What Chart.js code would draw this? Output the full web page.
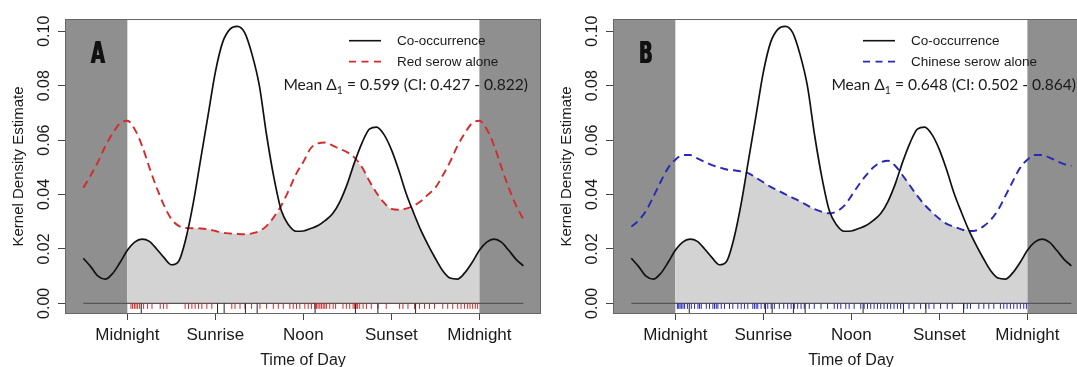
<!DOCTYPE html>
<html>
<head>
<meta charset="utf-8">
<script src="https://cdn.jsdelivr.net/npm/chart.js@4.4.1/dist/chart.umd.min.js"></script>
<style>
  html, body { margin: 0; padding: 0; background: #fff; overflow: hidden; }
  .panel { position: absolute; top: 0; width: 548px; height: 367px; }
  #panel-a { left: 0; }
  #panel-b { left: 548px; }
</style>
</head>
<body>
<div class="panel" id="panel-a"><canvas id="chart-a"></canvas></div>
<div class="panel" id="panel-b"><canvas id="chart-b"></canvas></div>
<script>
// Time of day in hours; the density is drawn 3 h past each midnight
const hours = [-3, -2.5, -2, -1.5, -1, -0.5, 0, 0.5, 1, 1.5, 2, 2.5, 3, 3.5, 4, 4.5, 5, 5.5,
  6, 6.5, 7, 7.5, 8, 8.5, 9, 9.5, 10, 10.5, 11, 11.5, 12, 12.5, 13, 13.5, 14, 14.5, 15, 15.5,
  16, 16.5, 17, 17.5, 18, 18.5, 19, 19.5, 20, 20.5, 21, 21.5, 22, 22.5, 23, 23.5, 24, 24.5,
  25, 25.5, 26, 26.5, 27];

// Kernel density estimates
const coOccurrence = [
  0.0166, 0.0135, 0.0100, 0.0089, 0.0110, 0.0150,
  0.0195, 0.0225, 0.0236, 0.0228, 0.0200, 0.0168,
  0.0142, 0.0155, 0.0240, 0.0370, 0.0530, 0.0690,
  0.0850, 0.0960, 0.1008, 0.1018, 0.0995, 0.0915,
  0.0800, 0.0616, 0.0460, 0.0340, 0.0288, 0.0265,
  0.0266, 0.0275, 0.0286, 0.0305, 0.0330, 0.0375,
  0.0440, 0.0520, 0.0590, 0.0640, 0.0648, 0.0620,
  0.0565, 0.0490, 0.0405, 0.0335, 0.0270, 0.0215,
  0.0165, 0.0120, 0.0093, 0.0089, 0.0112, 0.0150,
  0.0195, 0.0225, 0.0236, 0.0225, 0.0195, 0.0162,
  0.0138];
const redSerowAlone = [
  0.0425, 0.0470, 0.0520, 0.0578, 0.0625, 0.0662,
  0.0671, 0.0640, 0.0580, 0.0500, 0.0425, 0.0360,
  0.0310, 0.0285, 0.0277, 0.0276, 0.0275, 0.0272,
  0.0266, 0.0260, 0.0257, 0.0255, 0.0254, 0.0257,
  0.0266, 0.0285, 0.0318, 0.0360, 0.0415, 0.0475,
  0.0520, 0.0570, 0.0588, 0.0591, 0.0580, 0.0567,
  0.0555, 0.0535, 0.0500, 0.0450, 0.0405, 0.0370,
  0.0347, 0.0344, 0.0348, 0.0358, 0.0375, 0.0400,
  0.0425, 0.0470, 0.0520, 0.0578, 0.0625, 0.0662,
  0.0671, 0.0640, 0.0580, 0.0500, 0.0425, 0.0360,
  0.0309];
const chineseSerowAlone = [
  0.0282, 0.0305, 0.0340, 0.0392, 0.0447, 0.0497,
  0.0528, 0.0545, 0.0545, 0.0533, 0.0520, 0.0508,
  0.0500, 0.0492, 0.0489, 0.0485, 0.0478, 0.0462,
  0.0445, 0.0428, 0.0415, 0.0401, 0.0388, 0.0375,
  0.0360, 0.0346, 0.0336, 0.0331, 0.0338, 0.0358,
  0.0395, 0.0435, 0.0470, 0.0500, 0.0518, 0.0524,
  0.0505, 0.0470, 0.0432, 0.0395, 0.0362, 0.0335,
  0.0311, 0.0292, 0.0282, 0.0272, 0.0266, 0.0268,
  0.0283, 0.0307, 0.0343, 0.0395, 0.0448, 0.0498,
  0.0528, 0.0545, 0.0545, 0.0536, 0.0523, 0.0512,
  0.0505];

// Rug of detection times (hours)
const coRug = [0.95, 6.15, 6.6, 8.05, 8.85, 12.8, 15.55, 17.08, 19.65];
const redRug = [0.25, 0.36, 0.48, 0.59, 0.7, 0.84, 1.11, 1.38, 1.68, 2.24, 2.47, 2.7, 3.94, 4.17,
  4.4, 4.62, 4.85, 5.08, 5.42, 5.76, 7.12, 7.34, 7.68, 8.02, 8.47, 9.04, 9.49, 9.95, 10.29, 10.63,
  11.08, 11.31, 11.53, 11.76, 12.1, 12.33, 12.55, 12.78, 12.9, 13.0, 13.12, 13.23, 13.35, 13.46,
  13.57, 13.8, 14.03, 14.2, 14.7, 14.93, 15.16, 15.39, 15.5, 15.6, 15.7, 15.84, 16.07, 16.3, 16.63,
  17.09, 17.65, 18.56, 18.79, 19.13, 19.58, 19.92, 20.26, 20.6, 20.94, 21.5, 21.84, 22.18, 22.52,
  22.75, 22.98, 23.2, 23.36, 23.54, 23.72, 23.88];
const blueRug = [0.14, 0.23, 0.32, 0.41, 0.52, 0.63, 0.82, 1.09, 1.31, 1.54, 1.65, 1.77, 2.11, 2.33,
  2.56, 2.67, 2.79, 2.9, 3.13, 3.35, 3.69, 3.92, 4.26, 4.49, 4.71, 4.94, 5.28, 5.39, 5.51, 5.62,
  5.85, 6.07, 6.3, 6.53, 6.75, 7.09, 7.39, 7.66, 7.89, 8.11, 8.34, 8.57, 8.79, 9.13, 9.47, 9.93,
  10.38, 10.83, 11.06, 11.28, 11.62, 11.85, 12.19, 12.64, 12.87, 13.1, 13.32, 13.55, 13.78, 14.0,
  14.23, 14.46, 14.68, 14.91, 15.14, 15.36, 15.93, 16.27, 16.72, 17.06, 17.29, 17.63, 18.08, 18.54,
  18.88, 19.67, 19.9, 20.12, 20.69, 21.03, 21.37, 21.71, 22.16, 22.39, 22.61, 22.84, 23.07, 23.3,
  23.52, 23.75, 23.93];

// Axis ticks
const xTickHours = [0, 6, 12, 18, 24];
const xTickLabels = ["Midnight", "Sunrise", "Noon", "Sunset", "Midnight"];
const yTickValues = [0, 0.02, 0.04, 0.06, 0.08, 0.10];

// Overlap estimates shown in each panel: mean, CI low, CI high
const overlapA = [0.599, 0.427, 0.822];
const overlapB = [0.648, 0.502, 0.864];

const FONT = "'Liberation Sans', Arial, sans-serif";
Chart.defaults.font.family = FONT;
Chart.defaults.color = "#1a1a1a";

function toPoints(xs, ys) {
  return xs.map((x, i) => ({ x: x, y: ys[i] }));
}

// Light grey area: where both densities overlap, midnight to midnight only
function overlapPoints(other) {
  const pts = [];
  hours.forEach((h, i) => {
    if (h >= 0 && h <= 24) pts.push({ x: h, y: Math.min(coOccurrence[i], other[i]) });
  });
  return pts;
}

function rugDataset(list, yVal, len, color, order) {
  return {
    type: "scatter",
    data: list.map((h) => ({ x: h, y: yVal })),
    showLine: false,
    pointStyle: "line",
    pointRotation: 90,
    pointRadius: len,
    pointHoverRadius: len,
    pointBorderColor: color,
    pointBackgroundColor: color,
    pointBorderWidth: 1,
    order: order,
  };
}

// Night shading, frame, rotated y tick labels, panel letter, legend, overlap text
const decorations = {
  id: "decorations",
  beforeDatasetsDraw(chart) {
    const { ctx, chartArea: a, scales } = chart;
    const x0 = scales.x.getPixelForValue(0);
    const x24 = scales.x.getPixelForValue(24);
    ctx.save();
    ctx.fillStyle = "#8f8f8f";
    ctx.fillRect(a.left, a.top, x0 - a.left, a.bottom - a.top);
    ctx.fillRect(x24, a.top, a.right - x24, a.bottom - a.top);
    ctx.restore();
  },
  afterDraw(chart, args, p) {
    const { ctx, chartArea: a, scales } = chart;
    ctx.save();
    ctx.strokeStyle = "#666";
    ctx.lineWidth = 1;
    ctx.strokeRect(a.left + 0.5, a.top + 0.5, a.right - a.left - 1, a.bottom - a.top - 1);

    // y tick labels, parallel to the axis as R draws them
    ctx.fillStyle = "#1a1a1a";
    ctx.font = "16px " + FONT;
    ctx.textAlign = "center";
    ctx.textBaseline = "middle";
    yTickValues.forEach((v) => {
      const y = scales.y.getPixelForValue(v);
      ctx.save();
      ctx.translate(45, y);
      ctx.rotate(-Math.PI / 2);
      ctx.fillText(v.toFixed(2), 0, 0);
      ctx.restore();
    });

    // panel letter in a heavy condensed face (filled twice for weight)
    ctx.save();
    ctx.translate(90.5, 62.5);
    ctx.scale(0.6, 1);
    ctx.font = "bold 30px 'DejaVu Sans', sans-serif";
    ctx.textAlign = "left";
    ctx.textBaseline = "alphabetic";
    ctx.fillStyle = "#111";
    ctx.fillText(p.letter, 0, 0);
    ctx.fillText(p.letter, 1.5, 0);
    ctx.restore();

    // legend
    const lx = p.legendX;
    ctx.lineWidth = 1.6;
    ctx.strokeStyle = "#111";
    ctx.beginPath();
    ctx.moveTo(lx, 40.7);
    ctx.lineTo(lx + 32, 40.7);
    ctx.stroke();
    ctx.strokeStyle = p.color;
    ctx.lineWidth = 1.8;
    ctx.setLineDash([7, 5.5]);
    ctx.beginPath();
    ctx.moveTo(lx, 61.7);
    ctx.lineTo(lx + 32, 61.7);
    ctx.stroke();
    ctx.setLineDash([]);
    ctx.font = "13.5px " + FONT;
    ctx.textAlign = "left";
    ctx.fillStyle = "#1a1a1a";
    ctx.fillText("Co-occurrence", lx + 48, 41);
    ctx.fillText(p.label, lx + 48, 62);

    // Mean Δ1 = ... (CI: ... - ...), right edge at x = 528
    const o = p.overlap;
    const main = "15.6px Lato, 'Open Sans', sans-serif";
    const sub = "10.5px Lato, 'Open Sans', sans-serif";
    const part1 = "Mean \u0394";
    const part2 = "1";
    const part3 = " = " + o[0].toFixed(3) + " (CI: " + o[1].toFixed(3) + " - " + o[2].toFixed(3) + ")";
    ctx.textBaseline = "alphabetic";
    ctx.font = main;
    const w1 = ctx.measureText(part1).width;
    const w3 = ctx.measureText(part3).width;
    ctx.font = sub;
    const w2 = ctx.measureText(part2).width;
    let x = 528 - (w1 + w2 + w3);
    const base = 89.5;
    ctx.font = main;
    ctx.fillText(part1, x, base);
    x += w1;
    ctx.font = sub;
    ctx.fillText(part2, x, base + 4);
    x += w2;
    ctx.font = main;
    ctx.fillText(part3, x, base);
    ctx.restore();
  },
};

function makePanel(canvasId, p) {
  return new Chart(document.getElementById(canvasId), {
    type: "line",
    data: {
      datasets: [
        {
          data: toPoints(hours, coOccurrence),
          borderColor: "#111",
          borderWidth: 1.7,
          pointRadius: 0,
          cubicInterpolationMode: "monotone",
          fill: false,
          order: 1,
        },
        {
          data: toPoints(hours, p.series),
          borderColor: p.color,
          borderWidth: 1.9,
          borderDash: [8, 5],
          pointRadius: 0,
          cubicInterpolationMode: "monotone",
          fill: false,
          order: 2,
        },
        rugDataset(coRug, -0.00193, 5.25, "#222", 3),
        rugDataset(p.rug, -0.00101, 2.75, p.color, 4),
        {
          data: [{ x: -3, y: 0 }, { x: 27, y: 0 }],
          borderColor: "#555",
          borderWidth: 1.4,
          pointRadius: 0,
          fill: false,
          order: 5,
        },
        {
          data: overlapPoints(p.series),
          borderWidth: 0,
          borderColor: "rgba(0,0,0,0)",
          backgroundColor: "#d3d3d3",
          pointRadius: 0,
          cubicInterpolationMode: "monotone",
          fill: "origin",
          order: 6,
        },
      ],
    },
    options: {
      responsive: true,
      maintainAspectRatio: false,
      animation: false,
      events: [],
      layout: { padding: { left: 10, right: 7, top: 19, bottom: 0 } },
      plugins: {
        legend: { display: false },
        tooltip: { enabled: false },
        decorations: p,
      },
      scales: {
        x: {
          type: "linear",
          min: -4.25,
          max: 28.2,
          afterBuildTicks: (scale) => {
            scale.ticks = xTickHours.map((v) => ({ value: v }));
          },
          afterFit: (scale) => {
            scale.height = 53;
          },
          border: { display: false },
          grid: { drawOnChartArea: false, drawTicks: true, tickLength: 6, color: "#444" },
          ticks: {
            autoSkip: false,
            maxRotation: 0,
            padding: 5,
            font: { size: 17 },
            color: "#1a1a1a",
            callback: (v) => xTickLabels[xTickHours.indexOf(v)],
          },
          title: {
            display: true,
            text: "Time of Day",
            font: { size: 16, lineHeight: 1 },
            color: "#1a1a1a",
            padding: { top: 0, bottom: -2 },
          },
        },
        y: {
          min: -0.0039,
          max: 0.1045,
          afterBuildTicks: (scale) => {
            scale.ticks = yTickValues.map((v) => ({ value: v }));
          },
          afterFit: (scale) => {
            scale.width = 55;
          },
          border: { display: false },
          grid: { drawOnChartArea: false, drawTicks: true, tickLength: 7, color: "#444" },
          ticks: { display: false },
          title: {
            display: true,
            text: "Kernel Density Estimate",
            font: { size: 15, lineHeight: 1 },
            color: "#1a1a1a",
            padding: { top: 1, bottom: 0 },
          },
        },
      },
    },
    plugins: [decorations],
  });
}

makePanel("chart-a", {
  letter: "A",
  series: redSerowAlone,
  rug: redRug,
  color: "#d42a2a",
  label: "Red serow alone",
  legendX: 349,
  overlap: overlapA,
});
makePanel("chart-b", {
  letter: "B",
  series: chineseSerowAlone,
  rug: blueRug,
  color: "#2727b8",
  label: "Chinese serow alone",
  legendX: 315,
  overlap: overlapB,
});
</script>
</body>
</html>
